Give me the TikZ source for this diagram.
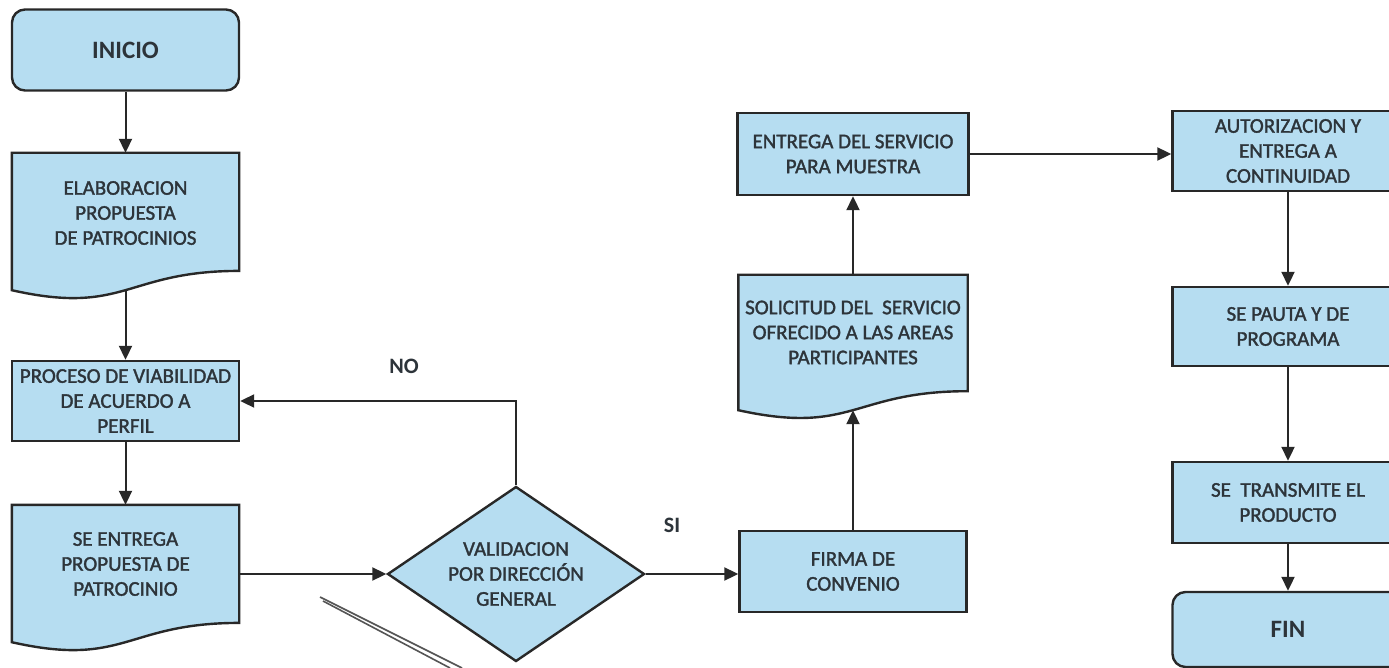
\documentclass[tikz,border=0pt]{standalone}
\usepackage{fontspec}
\setmainfont{Carlito}
\newfontfamily\boxfont{Carlito}[FakeBold=1.6]
\usetikzlibrary{shapes.geometric,arrows.meta,calc}
\definecolor{boxfill}{RGB}{182,221,241}
\definecolor{boxline}{RGB}{40,40,40}
\definecolor{txtcol}{RGB}{45,52,58}
\definecolor{pencol}{RGB}{85,85,85}
\newcommand\docoutline[1]{%
  \draw[docline] (#1.north west) -- (#1.north east)
    -- ($(#1.north east)!0.8596!(#1.south east)$)
    .. controls ($(#1.north)!0.8596!(#1.south)$) and ($(#1.north)!1.1865!(#1.south)$) ..
    (#1.south west) -- cycle;}
\begin{document}
\begin{tikzpicture}[x=1pt,y=-1pt,
  boxtext/.style={text=txtcol, font=\boxfont\fontsize{21}{25}\selectfont, align=center},
  box/.style={rectangle, draw=boxline, line width=2.4pt, fill=boxfill, minimum width=227pt,
    minimum height=80pt, inner sep=0pt, boxtext},
  rbox/.style={box, rounded corners=13pt, font=\rmfamily\bfseries\fontsize{25}{30}\selectfont},
  docshape/.style={rectangle, draw=none, fill=none, minimum width=227pt, inner sep=0pt},
  docline/.style={draw=boxline, line width=2.4pt, fill=boxfill, line join=miter},
  txt/.style={inner sep=0pt, boxtext},
  decision/.style={diamond, draw=boxline, line width=2.4pt, fill=boxfill, minimum width=257pt,
    minimum height=175pt, shape aspect=1.47, inner sep=0pt, boxtext},
  conn/.style={draw=boxline, line width=2pt, -{Triangle[width=13pt,length=14pt]}},
  lbl/.style={inner sep=0pt, text=txtcol, font=\rmfamily\bfseries\fontsize{22}{26}\selectfont},
  pen/.style={draw=pencol, line width=1.6pt}]
\useasboundingbox (0,0) rectangle (1389,668);
\clip (0,0) rectangle (1389,668);
\fill[white] (0,0) rectangle (1389,668);

% left column
\node[rbox, minimum height=81pt] (inicio) at (125.5,50) {INICIO};
\node[docshape, minimum height=137pt] (elab) at (125.5,221.5) {};
\docoutline{elab}
\node[txt] (elabt) at ([yshift=8.5pt]elab.center) {ELABORACION\\PROPUESTA\\DE PATROCINIOS};
\node[box] (proc) at (125.5,401) {PROCESO DE VIABILIDAD\\DE ACUERDO A\\PERFIL};
\node[docshape, minimum height=137pt] (sep) at (125.5,573.5) {};
\docoutline{sep}
\node[txt] (sept) at ([yshift=9.5pt]sep.center) {SE ENTREGA\\PROPUESTA DE\\PATROCINIO};

% decision
\node[decision] (val) at (516,574) {VALIDACION\\POR DIRECCIÓN\\GENERAL};

% middle column
\node[box, minimum height=81pt] (firma) at (853,571.5) {FIRMA DE\\CONVENIO};
\node[docshape, minimum width=229pt, minimum height=135pt] (sol) at (853,342.5) {};
\docoutline{sol}
\node[txt] (solt) at ([yshift=10pt]sol.center) {SOLICITUD DEL\ \ SERVICIO\\OFRECIDO A LAS AREAS\\PARTICIPANTES};
\node[box, minimum width=231pt, minimum height=82pt] (ent) at (853,154) {ENTREGA DEL SERVICIO\\PARA MUESTRA};

% right column
\node[box, minimum width=231pt] (aut) at (1288,151) {AUTORIZACION Y\\ENTREGA A\\CONTINUIDAD};
\node[box, minimum width=231pt, minimum height=79pt] (pauta) at (1288,326.5) {SE PAUTA Y DE\\PROGRAMA};
\node[box, minimum width=231pt, minimum height=81pt] (trans) at (1288,502.5) {SE\ \ TRANSMITE EL\\PRODUCTO};
\node[rbox, minimum width=231pt, minimum height=75pt] (fin) at (1288,629.5) {FIN};

% labels
\node[lbl] (no) at (404,366) {NO};
\node[lbl] (si) at (672,525) {SI};

% connectors
\draw[conn] (inicio.south) -- (elab.north);
\draw[conn] (elab.south) -- (proc.north);
\draw[conn] (proc.south) -- (sep.north);
\draw[conn] (sep.east |- val.west) -- (val.west);
\draw[conn] (val.north) |- (proc.east);
\draw[conn] (val.east) -- (val.east -| firma.west);
\draw[conn] (firma.north) -- (sol.south);
\draw[conn] (sol.north) -- (ent.south);
\draw[conn] (ent.east) -- (ent.east -| aut.west);
\draw[conn] (aut.south) -- (pauta.north);
\draw[conn] (pauta.south) -- (trans.north);
\draw[conn] (trans.south) -- (fin.north);

% pen seen in the scan
\draw[pen] (320,597) -- (462,668);
\draw[pen] (323,601) -- (450,668);
\end{tikzpicture}
\end{document}
